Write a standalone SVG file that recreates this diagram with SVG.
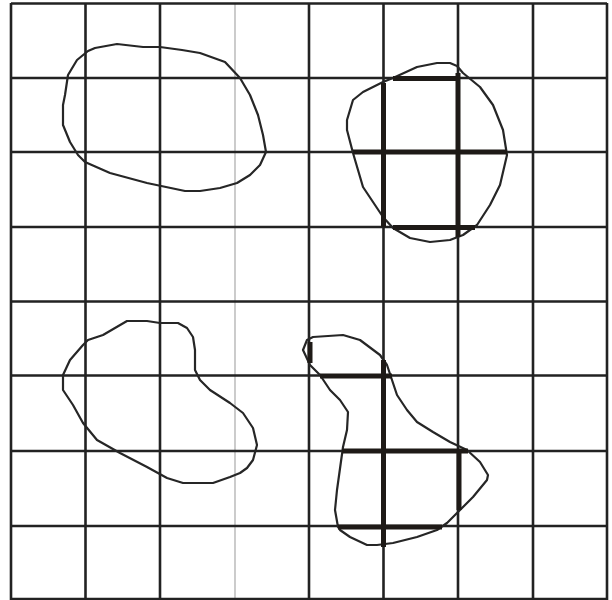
<svg xmlns="http://www.w3.org/2000/svg" width="612" height="600" viewBox="0 0 612 600">
<style>
.g{stroke:#222;stroke-width:2.6;fill:none}
.lg{stroke:#b0b0b0;stroke-width:1.3;fill:none}
.b{stroke:#262626;stroke-width:2.2;fill:none;stroke-linejoin:round;stroke-linecap:round}
.t{stroke:#1e1a17;stroke-width:5;fill:none}
</style>
<rect width="612" height="600" fill="#fff"/>
<g id="grid">
<line class="g" x1="11" y1="3" x2="11" y2="600"/>
<line class="g" x1="85.5" y1="3" x2="85.5" y2="600"/>
<line class="g" x1="160" y1="3" x2="160" y2="600"/>
<line class="lg" x1="235" y1="3" x2="235" y2="600"/>
<line class="g" x1="309" y1="3" x2="309" y2="600"/>
<line class="g" x1="383.5" y1="3" x2="383.5" y2="600"/>
<line class="g" x1="458" y1="3" x2="458" y2="600"/>
<line class="g" x1="533" y1="3" x2="533" y2="600"/>
<line class="g" x1="607" y1="3" x2="607" y2="600"/>
<line class="g" x1="11" y1="3.5" x2="607" y2="3.5"/>
<line class="g" x1="11" y1="78" x2="607" y2="78"/>
<line class="g" x1="11" y1="152" x2="607" y2="152"/>
<line class="g" x1="11" y1="227" x2="607" y2="227"/>
<line class="g" x1="11" y1="301.5" x2="607" y2="301.5" stroke-width="3.4"/>
<line class="g" x1="11" y1="375.5" x2="607" y2="375.5"/>
<line class="g" x1="11" y1="451" x2="607" y2="451"/>
<line class="g" x1="11" y1="526" x2="607" y2="526"/>
<line class="g" x1="11" y1="599" x2="607" y2="599"/>
</g>
<g id="blob1">
<polygon class="b" points="95,48 117,44 143,47 160,47 182,50 200,53 225,62 240,78 250,95 258,115 263,135 266,152 260,165 250,175 237,183 220,188 200,191 185,191 147,183 110,173 85,162 78,155 70,142 63,125 63,105 65,95 68,75 77,60 88,51"/>
</g>
<g id="blob2">
<polygon class="b" points="437,63 450,63 457,66 463,73 480,87 493,105 503,130 507,155 500,185 490,205 477,225 463,235 450,240 430,242 410,238 393,228 383,217 363,187 353,153 347,130 347,120 353,100 363,92 383,82 393,78 417,67"/>
<line class="t" x1="383.5" y1="83" x2="383.5" y2="227"/>
<line class="t" x1="458" y1="73" x2="458" y2="237"/>
<line class="t" x1="393" y1="78.5" x2="460" y2="78.5"/>
<line class="t" x1="353" y1="152" x2="507" y2="152"/>
<line class="t" x1="393" y1="227.5" x2="475" y2="227.5"/>
</g>
<g id="blob3">
<polygon class="b" points="307,340 313,337 343,335 360,340 380,355 387,365 392,380 397,395 407,410 417,422 433,432 450,442 467,450 480,462 488,475 487,480 473,497 460,510 447,523 437,530 417,537 393,543 377,545 367,545 350,537 340,530 338,527 335,510 337,490 343,447 347,430 348,412 340,400 330,390 320,375 310,365 303,350"/>
<line class="t" x1="310" y1="342" x2="310" y2="363" stroke-width="4"/>
<line class="t" x1="320" y1="376" x2="392" y2="376"/>
<line class="t" x1="383.5" y1="360" x2="383.5" y2="547"/>
<line class="t" x1="342" y1="451" x2="468" y2="451"/>
<line class="t" x1="459" y1="451" x2="459" y2="510"/>
<line class="t" x1="338" y1="527" x2="442" y2="527"/>
</g>
<g id="blob4">
<polygon class="b" points="127,321 147,321 160,323 178,323 187,328 193,337 195,350 195,370 200,380 210,390 230,403 243,413 253,428 257,445 253,460 247,468 240,473 230,477 213,483 183,483 167,478 147,467 120,453 97,440 83,423 73,405 63,390 63,375 70,360 83,345 88,340 103,335"/>
</g>
<g id="connectors"></g>
</svg>
